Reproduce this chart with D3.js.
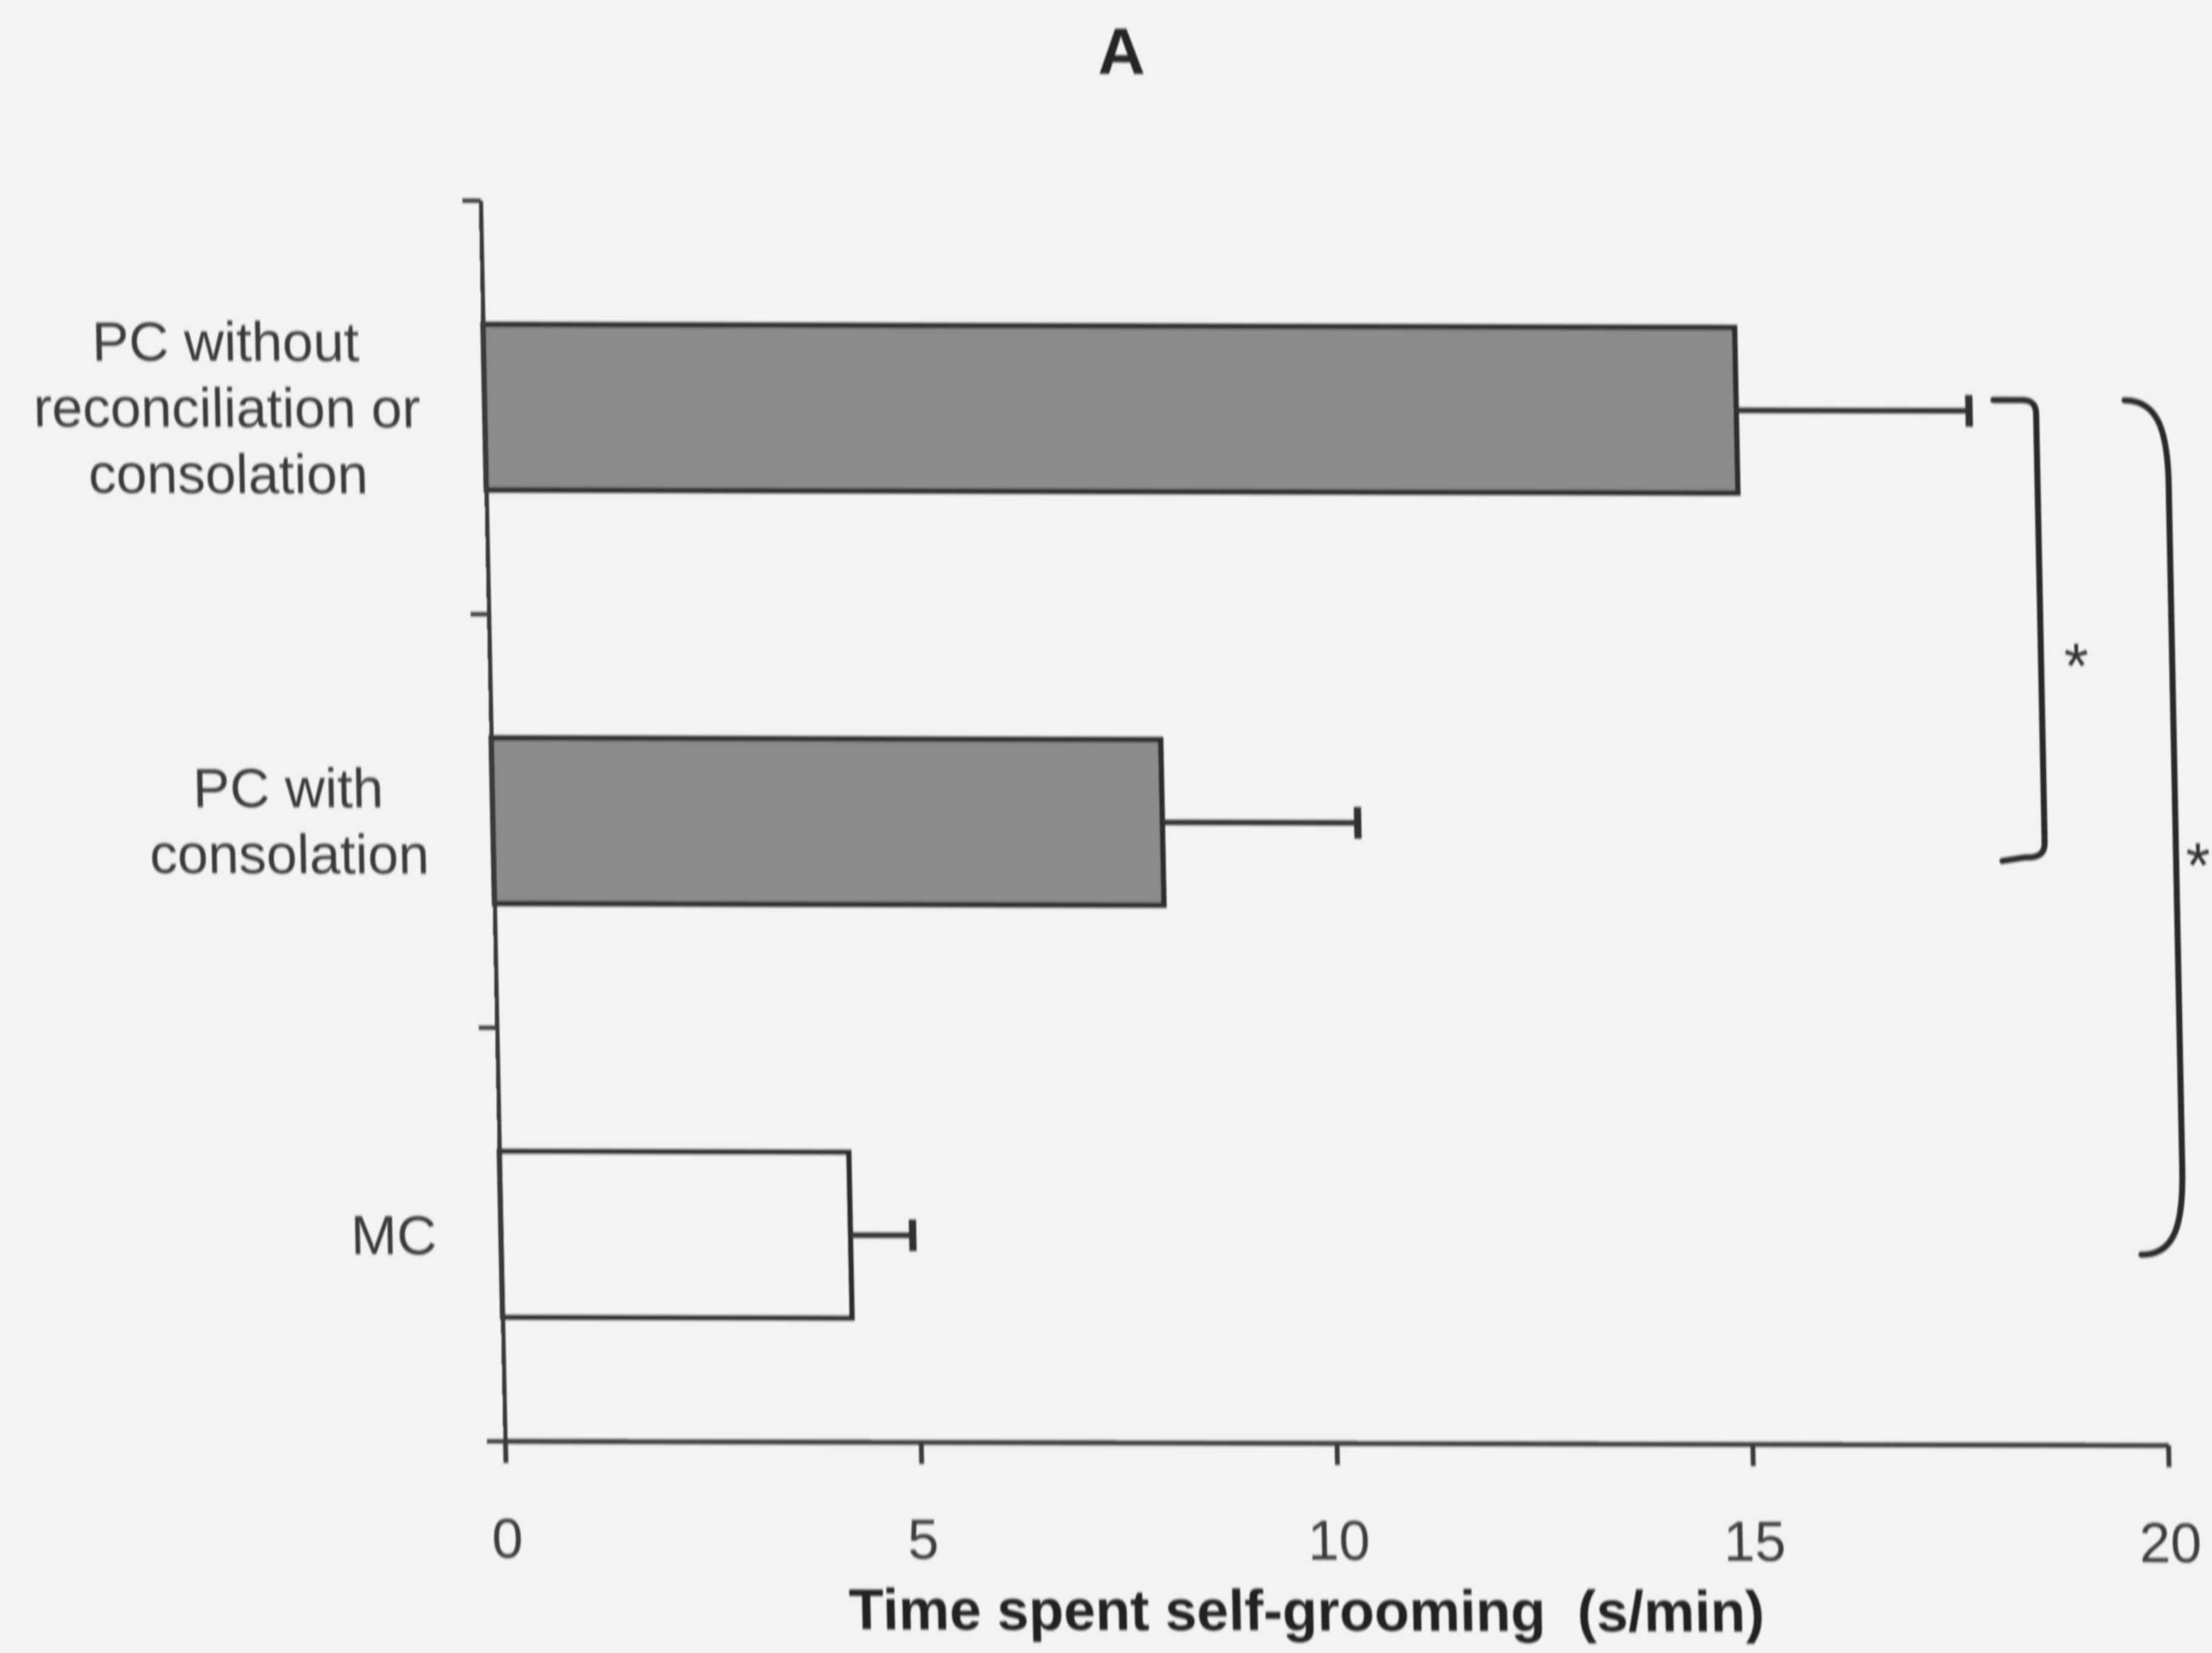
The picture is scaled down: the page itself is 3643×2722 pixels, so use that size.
<!DOCTYPE html>
<html>
<head>
<meta charset="utf-8">
<script src="https://cdn.jsdelivr.net/npm/d3@7"></script>
<style>
  html, body { margin: 0; padding: 0; background: #f3f3f3; }
  svg { display: block; }
</style>
</head>
<body>
<svg id="chart" width="3643" height="2722"></svg>
<script>
// Time spent self-grooming (s/min), mean + SE, by post-conflict condition
const categories = ["PC without\nreconciliation or\nconsolation", "PC with\nconsolation", "MC"];
const conditionType = ["PC", "PC", "MC"];
const meanValues = [15.05, 8.05, 4.2];
const stdErrors = [2.8, 2.35, 0.75];
const xTickValues = [0, 5, 10, 15, 20];
const comparisons = [
  { from: 0, to: 1, label: "*" },
  { from: 0, to: 2, label: "*" }
];

(function draw() {
  const W = 3643, H = 2722;
  const FONT = "'Liberation Sans', Arial, Helvetica, sans-serif";
  const INK = "#2d2d2d";

  const svg = d3.select("#chart");

  svg.append("rect").attr("width", W).attr("height", H).attr("fill", "#f3f3f3");

  const defs = svg.append("defs");
  defs.append("filter")
    .attr("id", "soft")
    .attr("x", "-2%").attr("y", "-2%").attr("width", "104%").attr("height", "104%")
    .append("feGaussianBlur").attr("stdDeviation", "1.3 2.2");

  // plot frame
  const plotLeft = 832, plotRight = 3571, plotTop = 330, plotBottom = 2373;

  const x = d3.scaleLinear().domain([0, 20]).range([plotLeft, plotRight]);
  const y = d3.scaleBand().domain(d3.range(categories.length))
    .range([plotTop, plotBottom]).paddingInner(0.6).paddingOuter(0.3);
  const yEdge = d3.scaleLinear().domain([0, categories.length]).range([plotTop, plotBottom]);
  const fill = d3.scaleOrdinal().domain(["PC", "MC"]).range(["#8b8b8b", "#f5f5f5"]);
  const yc = i => y(i) + y.bandwidth() / 2;

  // the printed figure sits slightly skewed on the page
  const skewX = 0.0198, skewY = 0.0025;
  const g = svg.append("g")
    .attr("filter", "url(#soft)")
    .append("g")
    .attr("transform", `translate(${plotLeft},${plotBottom}) matrix(1,${skewY},${skewX},1,0,0) translate(${-plotLeft},${-plotBottom})`);

  // panel letter
  g.append("text")
    .attr("x", 1892).attr("y", 119)
    .attr("text-anchor", "middle")
    .attr("font-family", FONT).attr("font-weight", "bold").attr("font-size", 108)
    .attr("fill", "#262626")
    .text("A");

  // bars
  g.append("g").selectAll("rect")
    .data(meanValues)
    .join("rect")
    .attr("x", x(0))
    .attr("y", (d, i) => y(i))
    .attr("width", d => x(d) - x(0))
    .attr("height", y.bandwidth())
    .attr("fill", (d, i) => fill(conditionType[i]))
    .attr("stroke", INK)
    .attr("stroke-width", 9);

  // error bars (upper side only)
  const err = g.append("g").attr("stroke", "#333");
  meanValues.forEach((m, i) => {
    const xe = x(m + stdErrors[i]);
    err.append("line")
      .attr("x1", x(m)).attr("x2", xe)
      .attr("y1", yc(i)).attr("y2", yc(i))
      .attr("stroke-width", 9);
    err.append("line")
      .attr("x1", xe).attr("x2", xe)
      .attr("y1", yc(i) - 26).attr("y2", yc(i) + 26)
      .attr("stroke-width", 12);
  });

  // category axis with ticks between groups
  const yAxis = g.append("g")
    .attr("transform", `translate(${x(0)},0)`)
    .call(d3.axisLeft(yEdge).tickValues(d3.range(categories.length + 1)).tickFormat("").tickSize(30).tickSizeOuter(0));
  yAxis.selectAll(".domain, line").attr("stroke", "#3a3a3a").attr("stroke-width", 7);

  // value axis
  const xAxis = g.append("g")
    .attr("transform", `translate(0,${plotBottom})`)
    .call(d3.axisBottom(x).tickValues(xTickValues).tickSize(36).tickSizeOuter(0).tickPadding(91));
  xAxis.attr("font-size", null).attr("font-family", null);
  xAxis.selectAll(".domain, line").attr("stroke", "#3a3a3a").attr("stroke-width", 8);
  xAxis.selectAll("text")
    .attr("font-family", FONT).attr("font-size", 92).attr("fill", "#3c3c3c");

  g.append("text")
    .attr("x", (plotLeft + plotRight) / 2 - 55).attr("y", 2682)
    .attr("text-anchor", "middle")
    .attr("xml:space", "preserve")
    .style("white-space", "pre")
    .attr("font-family", FONT).attr("font-weight", "bold").attr("font-size", 94)
    .attr("fill", "#242424")
    .text("Time spent self-grooming  (s/min)");

  // category labels: centred lines, block placed to the left of the axis
  const lineGap = 109;
  categories.forEach((c, i) => {
    const lines = c.split("\n");
    const grp = g.append("g");
    const texts = lines.map((t, k) => grp.append("text")
      .attr("y", yc(i) + (k - (lines.length - 1) / 2) * lineGap + 33)
      .attr("text-anchor", "middle")
      .attr("font-family", FONT).attr("font-size", 91)
      .attr("fill", "#3a3a3a")
      .text(t));
    const wMax = d3.max(texts, t => t.node().getComputedTextLength());
    texts.forEach(t => t.attr("x", x(0) - 106 - wMax / 2));
  });

  // significance brackets: square for neighbouring groups, rounded for the wider span
  const br = g.append("g").attr("fill", "none").attr("stroke", "#2a2a2a").attr("stroke-width", 10)
    .attr("stroke-linecap", "round");
  comparisons.forEach((cmp, level) => {
    const adjacent = cmp.to - cmp.from === 1;
    const y1 = yc(cmp.from) - 18;
    const y2 = yc(cmp.to) + (adjacent ? 52 : 27);
    const xv = x(20) - 184 + level * 216;
    const arm = 70;
    let d;
    if (adjacent) {
      const r = 22;
      d = `M${xv - arm},${y1} L${xv - r},${y1} Q${xv},${y1} ${xv},${y1 + r} L${xv},${y2 - r} Q${xv},${y2 + 4} ${xv - r - 10},${y2 + 2} L${xv - arm},${y2 + 8}`;
    } else {
      d = `M${xv - arm},${y1} C${xv - 15},${y1} ${xv},${y1 + 50} ${xv},${y1 + 140} L${xv},${y2 - 140} C${xv},${y2 - 50} ${xv - 15},${y2} ${xv - arm},${y2}`;
    }
    br.append("path").attr("d", d);
    g.append("text")
      .attr("x", Math.min(xv + 38, W - 24))
      .attr("y", (y1 + y2) / 2 + 40 + 58)
      .attr("font-family", FONT).attr("font-size", 104)
      .attr("fill", "#333")
      .text(cmp.label);
  });
})();
</script>
</body>
</html>
